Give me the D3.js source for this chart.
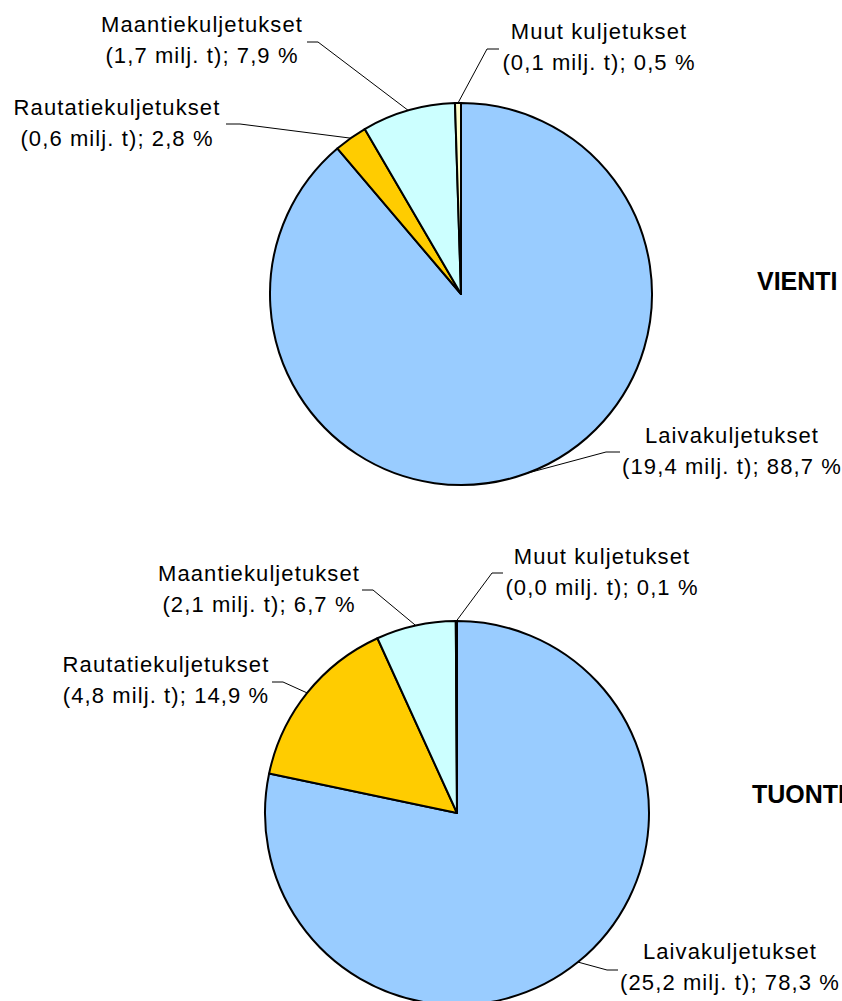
<!DOCTYPE html>
<html>
<head>
<meta charset="utf-8">
<script src="https://cdn.jsdelivr.net/npm/d3@7"></script>
<style>
  html, body { margin: 0; padding: 0; background: #fff; }
  svg { display: block; }
  text { font-family: "Liberation Sans", Arial, sans-serif; fill: #000; }
</style>
</head>
<body>
<svg id="chart" width="842" height="1001"></svg>
<script>
// ---- Data ----
const categories = ["Laivakuljetukset", "Rautatiekuljetukset", "Maantiekuljetukset", "Muut kuljetukset"];
const colors = ["#99CCFF", "#FFCC00", "#CCFFFF", "#FFFFCC"];
const vientiTonnes = [19.4, 0.6, 1.7, 0.1];
const vientiShare = [88.7, 2.8, 7.9, 0.5];
const tuontiTonnes = [25.2, 4.8, 2.1, 0.0];
const tuontiShare = [78.3, 14.9, 6.7, 0.1];
const chartTitles = ["VIENTI", "TUONTI"];

// ---- Layout (positions only) ----
const pies = [
  { title: chartTitles[0], tonnes: vientiTonnes, share: vientiShare,
    cx: 461, cy: 294, r: 191, titlePos: [757, 290],
    labels: [
      { x: 732, y: 443, elbow: [606, 452], end: [620, 452] },
      { x: 117, y: 115, elbow: [240, 124], end: [226, 124] },
      { x: 202, y: 32,  elbow: [318, 42],  end: [307, 42] },
      { x: 599, y: 39,  elbow: [487, 49],  end: [499, 49] }
    ] },
  { title: chartTitles[1], tonnes: tuontiTonnes, share: tuontiShare,
    cx: 457, cy: 813, r: 192, titlePos: [752, 803],
    labels: [
      { x: 730, y: 959, elbow: [607, 970], end: [618, 970] },
      { x: 166, y: 672, elbow: [283, 682], end: [272, 682] },
      { x: 259, y: 581, elbow: [373, 590], end: [362, 590] },
      { x: 602, y: 564, elbow: [492, 573], end: [503, 573] }
    ] }
];

const fi = d3.formatLocale({ decimal: ",", thousands: "\u00a0", grouping: [3], currency: ["", "\u00a0€"] });
const f1 = fi.format(".1f");

const svg = d3.select("#chart");
const color = d3.scaleOrdinal().domain(categories).range(colors);
const lineH = 31;

pies.forEach(p => {
  const data = categories.map((c, i) => ({ cat: c, share: p.share[i], tonnes: p.tonnes[i], i }));
  const arcs = d3.pie().sort(null).value(d => d.share).startAngle(0).endAngle(2 * Math.PI)(data);
  const arc = d3.arc().innerRadius(0).outerRadius(p.r);
  const g = svg.append("g").attr("transform", `translate(${p.cx},${p.cy})`);

  g.selectAll("path.slice").data(arcs).enter().append("path")
    .attr("class", "slice")
    .attr("d", arc)
    .attr("fill", d => color(d.data.cat))
    .attr("stroke", "#000")
    .attr("stroke-width", 2)
    .attr("stroke-linejoin", "round");

  // leader lines
  arcs.forEach((a, k) => {
    const L = p.labels[k];
    const mid = (a.startAngle + a.endAngle) / 2;
    const ex = p.cx + p.r * Math.sin(mid);
    const ey = p.cy - p.r * Math.cos(mid);
    svg.append("polyline")
      .attr("points", [[ex, ey], L.elbow, L.end].map(q => q.join(",")).join(" "))
      .attr("fill", "none")
      .attr("stroke", "#000")
      .attr("stroke-width", 1);

    const t = svg.append("text")
      .attr("text-anchor", "middle")
      .attr("font-size", 22)
      .attr("letter-spacing", 1.1);
    t.append("tspan").attr("x", L.x).attr("y", L.y).text(a.data.cat);
    t.append("tspan").attr("x", L.x).attr("y", L.y + lineH)
      .text(`(${f1(a.data.tonnes)} milj. t); ${f1(a.data.share)} %`);
  });

  svg.append("text")
    .attr("x", p.titlePos[0]).attr("y", p.titlePos[1])
    .attr("font-size", 25)
    .attr("font-weight", "bold")
    .text(p.title);
});
</script>
</body>
</html>
